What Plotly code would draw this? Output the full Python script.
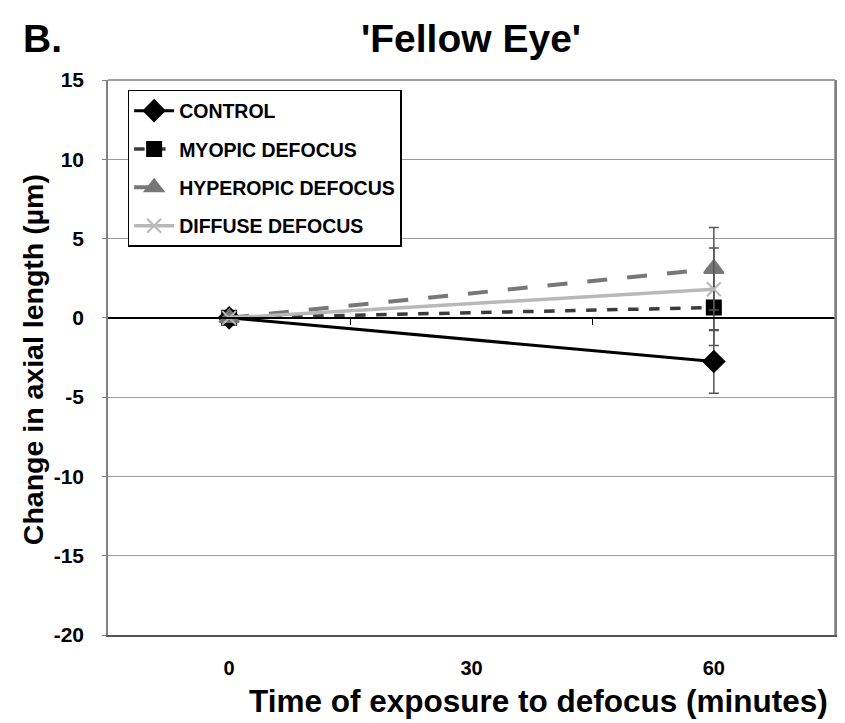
import plotly.graph_objects as go

times = [0, 60]
tick_times = [0, 30, 60]
y_ticks = [-20, -15, -10, -5, 0, 5, 10, 15]
series_names = ["CONTROL", "MYOPIC DEFOCUS", "HYPEROPIC DEFOCUS", "DIFFUSE DEFOCUS"]
control = [0, -2.75]
control_err = [0, 2.0]
myopic = [0, 0.65]
myopic_err = [0, 2.4]
hyperopic = [0, 3.1]
hyperopic_err = [0, 2.6]
diffuse = [0, 1.8]
diffuse_err = [0, 2.6]

styles = [
    dict(color="#000000", dash="solid", width=3, symbol="diamond", msize=16, mcolor="#000000"),
    dict(color="#3c3c3c", dash="dash", width=3.5, symbol="square", msize=14, mcolor="#000000"),
    dict(color="#777777", dash="longdash", width=4, symbol="triangle-up", msize=17, mcolor="#777777"),
    dict(color="#b8b8b8", dash="solid", width=3.5, symbol="x-thin", msize=14, mcolor="#b8b8b8"),
]
values = [control, myopic, hyperopic, diffuse]
errors = [control_err, myopic_err, hyperopic_err, diffuse_err]

FONT = "Liberation Sans"
fig = go.Figure()
for i, (name, vals, errs, st) in enumerate(zip(series_names, values, errors, styles)):
    fig.add_trace(go.Scatter(
        x=times, y=vals, name=name, mode="lines+markers", legendgroup=f"g{i}",
        line=dict(color=st["color"], dash=st["dash"], width=st["width"]),
        marker=dict(symbol=st["symbol"], size=st["msize"], color=st["mcolor"],
                    line=dict(color=st["mcolor"], width=2)),
        error_y=dict(type="data", array=errs, visible=True, color="#555555", thickness=1.5, width=5),
    ))

# invisible traces on overlay axes (zero-line axis with ticks, and visible short y ticks)
fig.add_trace(go.Scatter(x=[0], y=[0], xaxis="x2", mode="markers", marker=dict(opacity=0),
                         showlegend=False, hoverinfo="skip"))
fig.add_trace(go.Scatter(x=[0], y=[0], yaxis="y2", mode="markers", marker=dict(opacity=0),
                         showlegend=False, hoverinfo="skip"))

fig.update_layout(
    width=845, height=723,
    margin=dict(l=108, r=8, t=80, b=88),
    paper_bgcolor="white", plot_bgcolor="white",
    font=dict(family=FONT, color="#000000"),
    showlegend=True,
    legend=dict(x=0.027, y=0.982, xanchor="left", yanchor="top",
                bordercolor="#000000", borderwidth=1.5, bgcolor="white",
                font=dict(family=FONT, size=19.5, weight="bold"),
                tracegroupgap=10, itemwidth=40),
    xaxis=dict(range=[-15, 75], tickvals=tick_times, ticktext=[str(t) for t in tick_times],
               showgrid=False, zeroline=False, showline=True, linecolor="#555555", linewidth=2,
               mirror=False, ticks="outside", ticklen=14, tickcolor="rgba(0,0,0,0)",
               tickfont=dict(size=20, weight="bold")),
    xaxis2=dict(overlaying="x", anchor="free", position=20/35, range=[-15, 75],
                tickvals=[15, 45], ticks="outside", ticklen=6, tickcolor="#000000", tickwidth=1,
                showticklabels=False, showgrid=False, zeroline=False, showline=True,
                linecolor="#000000", linewidth=1.5),
    yaxis=dict(range=[-20, 15], tickvals=y_ticks, ticktext=[str(v) for v in y_ticks],
               showgrid=True, gridcolor="#9a9a9a", gridwidth=1,
               zeroline=False, showline=True, linecolor="#808080", linewidth=1.5, mirror=True,
               ticks="outside", ticklen=18, tickcolor="rgba(0,0,0,0)",
               tickfont=dict(size=21, weight="bold")),
    yaxis2=dict(overlaying="y", side="left", range=[-20, 15], tickvals=y_ticks,
                ticks="outside", ticklen=5, tickcolor="#808080", showticklabels=False,
                showgrid=False, zeroline=False, showline=False),
    annotations=[
        dict(text="B.", x=(42 - 108) / 729, y=(635 - 38) / 555, xref="paper", yref="paper",
             xanchor="center", yanchor="middle", showarrow=False,
             font=dict(size=39, weight="bold")),
        dict(text="'Fellow Eye'", x=(472 - 108) / 729, y=(635 - 38) / 555, xref="paper", yref="paper",
             xanchor="center", yanchor="middle", showarrow=False,
             font=dict(size=39, weight="bold")),
        dict(text="Time of exposure to defocus (minutes)", x=(540 - 108) / 729, y=(635 - 701) / 555,
             xref="paper", yref="paper", xanchor="center", yanchor="middle", showarrow=False,
             font=dict(size=31.5, weight="bold")),
        dict(text="Change in axial length (µm)", x=(33 - 108) / 729, y=(635 - 360) / 555,
             xref="paper", yref="paper", xanchor="center", yanchor="middle", showarrow=False,
             textangle=-90, font=dict(size=28.5, weight="bold")),
    ],
)
fig.add_shape(type="line", xref="paper", yref="paper", x0=0, x1=1, y0=1, y1=1,
              line=dict(color="#808080", width=1.5))
fig.add_shape(type="line", xref="paper", yref="paper", x0=1, x1=1, y0=0, y1=1,
              line=dict(color="#808080", width=1.5))

fig.write_html("out.html")
